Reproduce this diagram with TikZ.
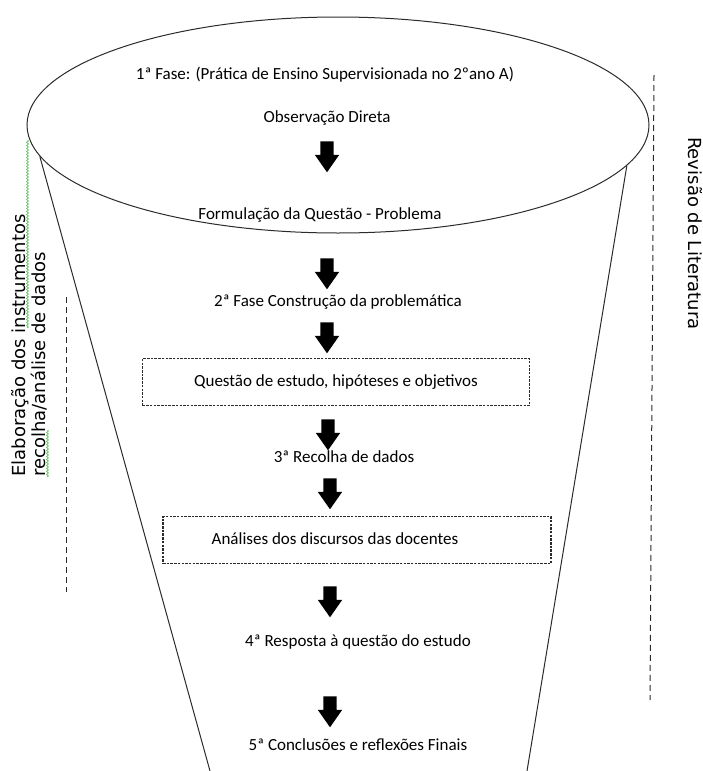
\documentclass[tikz,border=0pt]{standalone}
\usepackage{fontspec}
\setmainfont{Carlito}
\newfontfamily\sidefont{DejaVu Sans}
\usetikzlibrary{shapes.geometric,shapes.arrows,decorations.pathmorphing}
\definecolor{funnelink}{HTML}{2B2B2B}
\definecolor{spellgreen}{HTML}{4CB848}

\begin{document}
\begin{tikzpicture}[
  x=1pt, y=-1pt,
  every node/.style={font=\fontsize{17}{20}\selectfont, text=black, inner sep=0pt},
  rim/.style={draw=funnelink, line width=1pt},
  dbox/.style={draw=funnelink, line width=1.2pt, dash pattern=on 2.5pt off 1.2pt, minimum height=47pt},
  guide/.style={draw=funnelink, line width=1pt, dash pattern=on 6pt off 4pt},
  side/.style={font=\sidefont\fontsize{18}{21}\selectfont, anchor=base west},
  down/.style={single arrow, fill=black, draw=none, shape border rotate=270,
    inner sep=6.5pt, minimum height=31pt,
    single arrow head extend=5.5pt, single arrow tip angle=70,
    single arrow head indent=0pt},
  squiggle/.style={draw=spellgreen, line width=0.6pt, decorate,
    decoration={snake, amplitude=1pt, segment length=3pt}}
]
  \useasboundingbox (0,0) rectangle (703,771);

  %% ---- funil ---------------------------------------------------------
  \node[ellipse, rim, minimum width=622pt, minimum height=216pt] (cup) at (338,125) {};
  \coordinate (lfoot) at (210,771);
  \coordinate (rfoot) at (527,771);
  \draw[rim] (cup.186) -- (lfoot);
  \draw[rim] (cup.352) -- (rfoot);

  %% ---- fases ---------------------------------------------------------
  \node (phase1)  at (325,75)  {1ª Fase: (Prática de Ensino Supervisionada no 2ºano A)};
  \node (observe) at (327,118) {Observação Direta};
  \node[down] (a1) at (327,152) {};
  \node (formul)  at (320,215) {Formulação da Questão - Problema};
  \node[down] (a2) at (327,269) {};
  \node (phase2)  at (338,302) {2ª Fase Construção da problemática};
  \node[down] (a3) at (327,333) {};
  \node[dbox, minimum width=387pt] (question) at (336,382) {Questão de estudo, hipóteses e objetivos};
  \node[down] (a4) at (328,430) {};
  \node (phase3)  at (344,457) {3ª Recolha de dados};
  \node[down] (a5) at (330,489) {};
  \node[dbox, minimum width=388pt] (analysisbox) at (357,540) {};
  \node (analysis) at (335,539) {Análises dos discursos das docentes};
  \node[down] (a6) at (330,597) {};
  \node (phase4)  at (358,642) {4ª Resposta à questão do estudo};
  \node[down] (a7) at (330,707) {};
  \node (phase5)  at (358,745) {5ª Conclusões e reflexões Finais};

  %% ---- margens -------------------------------------------------------
  \coordinate (lguidetop) at (66,297);
  \coordinate (lguidebot) at (66,592);
  \draw[guide] (lguidetop) -- (lguidebot);
  \coordinate (rguidetop) at (654,75);
  \coordinate (rguidebot) at (650,700);
  \draw[guide] (rguidetop) -- (rguidebot);

  \node[side, rotate=90]  (elab1)  at (25,477)  {Elaboração dos instrumentos};
  \node[side, rotate=90]  (elab2)  at (45,477)  {recolha/análise de dados};
  \node[side, rotate=-90] (review) at (688,137) {Revisão de Literatura};

  \coordinate (sqtop) at (27.5,140);
  \coordinate (sqbot) at (27.5,328);
  \draw[squiggle] (sqtop) -- (sqbot);
  \coordinate (sqtwotop) at (47.5,430);
  \coordinate (sqtwobot) at (47.5,477);
  \draw[squiggle] (sqtwotop) -- (sqtwobot);

\end{tikzpicture}
\end{document}
